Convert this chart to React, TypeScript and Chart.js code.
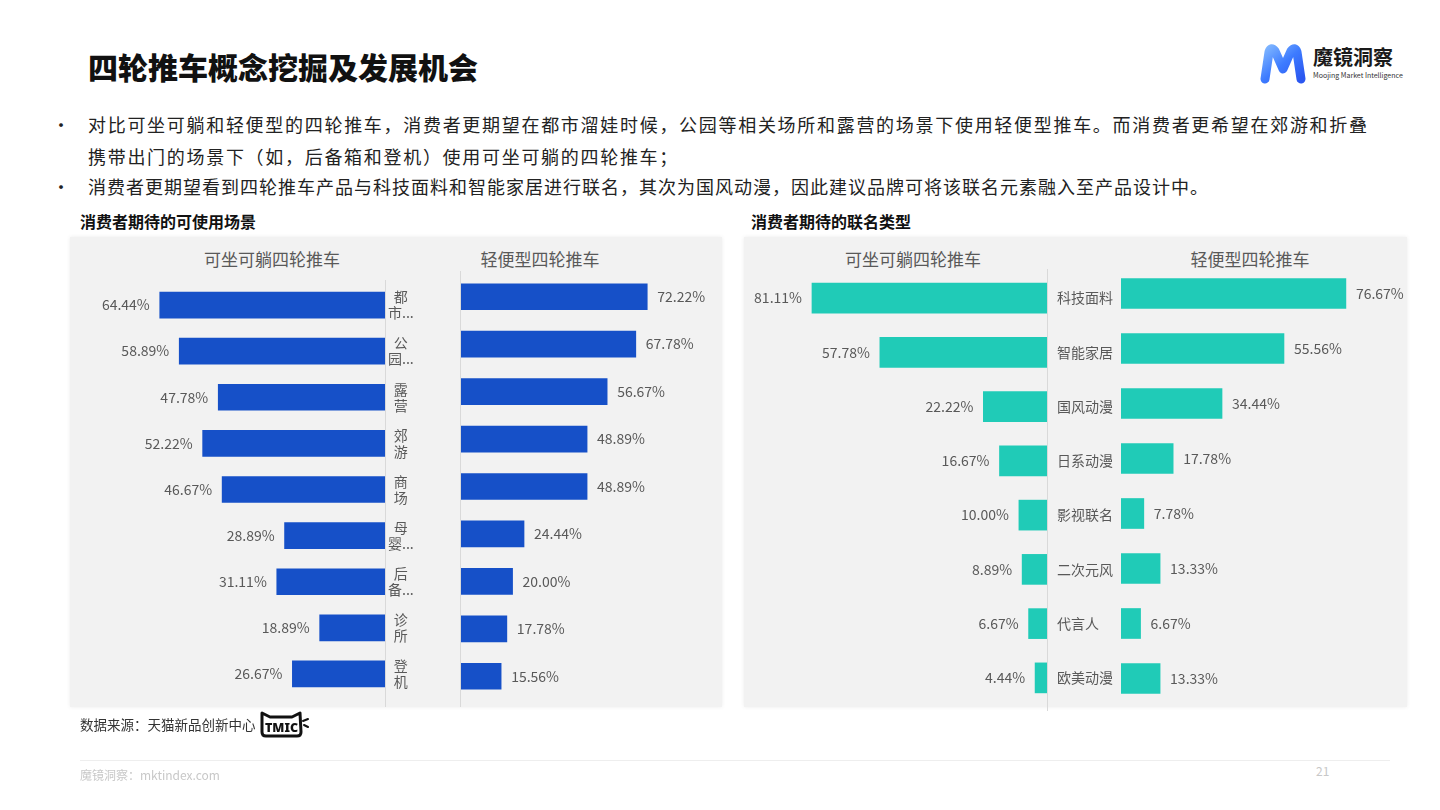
import React, { useEffect, useRef } from "react";
import { Chart, registerables } from "chart.js";

Chart.register(...registerables);

const FONT = '"Noto Sans CJK SC", "Noto Sans", sans-serif';

// ---- data ----
const sceneLabels: string[][] = [
  ["都", "市..."],
  ["公", "园..."],
  ["露", "营"],
  ["郊", "游"],
  ["商", "场"],
  ["母", "婴..."],
  ["后", "备..."],
  ["诊", "所"],
  ["登", "机"],
];
const sceneSeatRecline: number[] = [64.44, 58.89, 47.78, 52.22, 46.67, 28.89, 31.11, 18.89, 26.67];
const sceneLightweight: number[] = [72.22, 67.78, 56.67, 48.89, 48.89, 24.44, 20.0, 17.78, 15.56];

const collabLabels: string[] = ["科技面料", "智能家居", "国风动漫", "日系动漫", "影视联名", "二次元风", "代言人", "欧美动漫"];
const collabSeatRecline: number[] = [81.11, 57.78, 22.22, 16.67, 10.0, 8.89, 6.67, 4.44];
const collabLightweight: number[] = [76.67, 55.56, 34.44, 17.78, 7.78, 13.33, 6.67, 13.33];

const seriesNames: string[] = ["可坐可躺四轮推车", "轻便型四轮推车"];

const BLUE = "#1650C8";
const TEAL = "#20CBB7";
const LABEL_COLOR = "#595959";

const valueLabels = (side: "left" | "right") => ({
  id: "valueLabels",
  afterDatasetsDraw(chart: any) {
    const ctx = chart.ctx;
    const meta = chart.getDatasetMeta(0);
    const data = chart.data.datasets[0].data as number[];
    ctx.save();
    ctx.font = `14px ${FONT}`;
    ctx.fillStyle = LABEL_COLOR;
    ctx.textBaseline = "middle";
    meta.data.forEach((bar: any, i: number) => {
      const txt = data[i].toFixed(2) + "%";
      if (side === "left") {
        ctx.textAlign = "right";
        ctx.fillText(txt, Math.min(bar.x, bar.base) - 10, bar.y);
      } else {
        ctx.textAlign = "left";
        ctx.fillText(txt, Math.max(bar.x, bar.base) + 10, bar.y);
      }
    });
    ctx.restore();
  },
});

const axisLine = (edge: "left" | "right" | "none", bottom: number) => ({
  id: "axisLine",
  afterDraw(chart: any) {
    if (edge === "none") return;
    const { ctx, chartArea } = chart;
    const x = (edge === "left" ? chartArea.left : chartArea.right) - 0.5;
    ctx.save();
    ctx.strokeStyle = "#D9D9D9";
    ctx.lineWidth = 1;
    ctx.beginPath();
    ctx.moveTo(x, chartArea.top - 2);
    ctx.lineTo(x, bottom);
    ctx.stroke();
    ctx.restore();
  },
});

type Spec = {
  left: number;
  top: number;
  width: number;
  height: number;
  labels: any[];
  values: number[];
  color: string;
  thickness: number;
  max: number;
  reverse: boolean;
  padding: { left: number; right: number; top: number; bottom: number };
  showY: boolean;
  yWidth: number;
  crossAlign: "near" | "center" | "far";
  tickPadding: number;
  lineHeight: number;
  edge: "left" | "right" | "none";
  lineBottom: number;
};

function BarCanvas({ spec }: { spec: Spec }) {
  const ref = useRef<HTMLCanvasElement | null>(null);
  useEffect(() => {
    if (!ref.current) return;
    const chart = new Chart(ref.current, {
      type: "bar",
      data: {
        labels: spec.labels,
        datasets: [
          {
            data: spec.values,
            backgroundColor: spec.color,
            barThickness: spec.thickness,
            borderWidth: 0,
          },
        ],
      },
      options: {
        indexAxis: "y",
        animation: false,
        responsive: false,
        maintainAspectRatio: false,
        layout: { padding: spec.padding },
        plugins: {
          legend: { display: false },
          tooltip: { enabled: false },
        },
        scales: {
          x: { display: false, min: 0, max: spec.max, reverse: spec.reverse },
          y: {
            display: spec.showY,
            position: "right",
            grid: { display: false, drawTicks: false },
            border: { display: false },
            ticks: {
              color: LABEL_COLOR,
              font: { family: FONT, size: 14, lineHeight: spec.lineHeight },
              crossAlign: spec.crossAlign,
              padding: spec.tickPadding,
              autoSkip: false,
            },
            afterFit: (s: any) => {
              s.width = spec.yWidth;
            },
          },
        },
      } as any,
      plugins: [valueLabels(spec.reverse ? "left" : "right"), axisLine(spec.edge, spec.lineBottom)],
    });
    return () => chart.destroy();
  }, []);
  return (
    <canvas
      ref={ref}
      width={spec.width}
      height={spec.height}
      style={{ position: "absolute", left: spec.left, top: spec.top, width: spec.width, height: spec.height }}
    />
  );
}

const specs: Spec[] = [
  {
    left: 70, top: 237, width: 356, height: 500,
    labels: sceneLabels, values: sceneSeatRecline, color: BLUE, thickness: 26, max: 90, reverse: true,
    padding: { left: 0, right: 0, top: 45, bottom: 40 },
    showY: true, yWidth: 40, crossAlign: "center", tickPadding: 2, lineHeight: 16 / 14, edge: "right", lineBottom: 470,
  },
  {
    left: 460, top: 237, width: 260, height: 470,
    labels: sceneLabels, values: sceneLightweight, color: BLUE, thickness: 26, max: 95, reverse: false,
    padding: { left: 1, right: 14, top: 36, bottom: 7 },
    showY: false, yWidth: 0, crossAlign: "near", tickPadding: 0, lineHeight: 1.2, edge: "left", lineBottom: 470,
  },
  {
    left: 744, top: 237, width: 374, height: 500,
    labels: collabLabels, values: collabSeatRecline, color: TEAL, thickness: 30, max: 100, reverse: true,
    padding: { left: 13, right: 0, top: 34, bottom: 32 },
    showY: true, yWidth: 70, crossAlign: "near", tickPadding: 9, lineHeight: 1.2, edge: "right", lineBottom: 474,
  },
  {
    left: 1118, top: 237, width: 289, height: 470,
    labels: collabLabels, values: collabLightweight, color: TEAL, thickness: 30, max: 90, reverse: false,
    padding: { left: 3, right: 22, top: 29, bottom: 1 },
    showY: false, yWidth: 0, crossAlign: "near", tickPadding: 0, lineHeight: 1.2, edge: "none", lineBottom: 470,
  },
];

const abs = (s: React.CSSProperties): React.CSSProperties => ({ position: "absolute", whiteSpace: "nowrap", ...s });

export default function App() {
  const bodyText: React.CSSProperties = {
    fontFamily: FONT,
    fontSize: 18,
    color: "#222",
    letterSpacing: 1,
    lineHeight: "32px",
  };
  const subTitle: React.CSSProperties = {
    fontFamily: FONT,
    fontSize: 17,
    color: LABEL_COLOR,
    lineHeight: "24px",
    transform: "translateX(-50%)",
  };
  return (
    <div
      style={{
        position: "fixed",
        left: 0,
        top: 0,
        width: 1440,
        height: 810,
        background: "#fff",
        overflow: "hidden",
        fontFamily: FONT,
      }}
    >
      {/* Title */}
      <div style={abs({ left: 88, top: 46, fontSize: 30, fontWeight: 900, color: "#111", lineHeight: "40px" })}>
        四轮推车概念挖掘及发展机会
      </div>

      {/* Logo */}
      <svg style={{ position: "absolute", left: 1258, top: 43 }} width="50" height="42" viewBox="0 0 50 42">
        <defs>
          <linearGradient id="mg" x1="0" y1="0" x2="1" y2="1">
            <stop offset="0" stopColor="#7DB4FF" />
            <stop offset="0.5" stopColor="#3D7BFF" />
            <stop offset="1" stopColor="#2B57F0" />
          </linearGradient>
        </defs>
        <path
          d="M7 36 L11 9 Q13 3 17 8 L25 26 L33 8 Q37 3 39 9 L43 36"
          fill="none"
          stroke="url(#mg)"
          strokeWidth="9"
          strokeLinecap="round"
          strokeLinejoin="round"
        />
      </svg>
      <div style={abs({ left: 1313, top: 44, fontSize: 20, fontWeight: 700, color: "#1a1a1a", lineHeight: "26px" })}>
        魔镜洞察
      </div>
      <div style={abs({ left: 1313, top: 71, fontSize: 7, color: "#333", lineHeight: "9px" })}>
        Moojing Market Intelligence
      </div>

      {/* Bullets */}
      <div style={abs({ ...bodyText, left: 52, top: 108 })}>•</div>
      <div
        style={{
          ...bodyText,
          position: "absolute",
          left: 88,
          top: 108,
          width: 1279,
          textAlign: "justify",
          textAlignLast: "justify",
          whiteSpace: "nowrap",
          letterSpacing: 0,
        }}
      >
        对比可坐可躺和轻便型的四轮推车，消费者更期望在都市溜娃时候，公园等相关场所和露营的场景下使用轻便型推车。而消费者更希望在郊游和折叠
      </div>
      <div style={abs({ ...bodyText, left: 88, top: 140, letterSpacing: 1.7 })}>
        携带出门的场景下（如，后备箱和登机）使用可坐可躺的四轮推车；
      </div>
      <div style={abs({ ...bodyText, left: 52, top: 170 })}>•</div>
      <div style={abs({ ...bodyText, left: 88, top: 170 })}>
        消费者更期望看到四轮推车产品与科技面料和智能家居进行联名，其次为国风动漫，因此建议品牌可将该联名元素融入至产品设计中。
      </div>

      {/* Section titles */}
      <div style={abs({ left: 80, top: 210, fontSize: 16, fontWeight: 700, color: "#111", lineHeight: "22px" })}>
        消费者期待的可使用场景
      </div>
      <div style={abs({ left: 751, top: 210, fontSize: 16, fontWeight: 700, color: "#111", lineHeight: "22px" })}>
        消费者期待的联名类型
      </div>

      {/* Panels */}
      <div
        style={{
          position: "absolute",
          left: 70,
          top: 237,
          width: 652,
          height: 470,
          background: "#F2F2F2",
          boxShadow: "0 0 4px rgba(0,0,0,0.08)",
        }}
      />
      <div
        style={{
          position: "absolute",
          left: 744,
          top: 237,
          width: 663,
          height: 470,
          background: "#F2F2F2",
          boxShadow: "0 0 4px rgba(0,0,0,0.08)",
        }}
      />

      {/* Sub titles */}
      <div style={abs({ ...subTitle, left: 272, top: 247 })}>{seriesNames[0]}</div>
      <div style={abs({ ...subTitle, left: 540, top: 247 })}>{seriesNames[1]}</div>
      <div style={abs({ ...subTitle, left: 913, top: 247 })}>{seriesNames[0]}</div>
      <div style={abs({ ...subTitle, left: 1250, top: 247 })}>{seriesNames[1]}</div>

      {specs.map((s, i) => (
        <BarCanvas key={i} spec={s} />
      ))}

      {/* Source */}
      <div style={abs({ left: 80, top: 714, fontSize: 13.5, color: "#333", lineHeight: "20px" })}>
        数据来源：天猫新品创新中心
      </div>
      <svg style={{ position: "absolute", left: 258, top: 709 }} width="52" height="30" viewBox="0 0 52 30">
        <path
          d="M4 4 L12 8 L34 8 L42 4 L43 23 Q43 27 39 27 L8 27 Q4 27 4 23 Z"
          fill="none"
          stroke="#111"
          strokeWidth="3"
          strokeLinejoin="round"
        />
        <text x="23.5" y="23" textAnchor="middle" fontFamily="Noto Sans, sans-serif" fontWeight="900" fontSize="12.5" fill="#111">
          TMIC
        </text>
        <path d="M45 12 L50 10 M46 16 L50 18" stroke="#111" strokeWidth="2" strokeLinecap="round" />
      </svg>

      {/* Footer */}
      <div style={{ position: "absolute", left: 80, top: 760, width: 1310, height: 1, background: "#EEEEEE" }} />
      <div style={abs({ left: 80, top: 767, fontSize: 12, color: "#C8C8C8", lineHeight: "16px" })}>
        魔镜洞察：mktindex.com
      </div>
      <div style={abs({ left: 1316, top: 763, fontSize: 12, color: "#C8C8C8", lineHeight: "16px" })}>21</div>
    </div>
  );
}
